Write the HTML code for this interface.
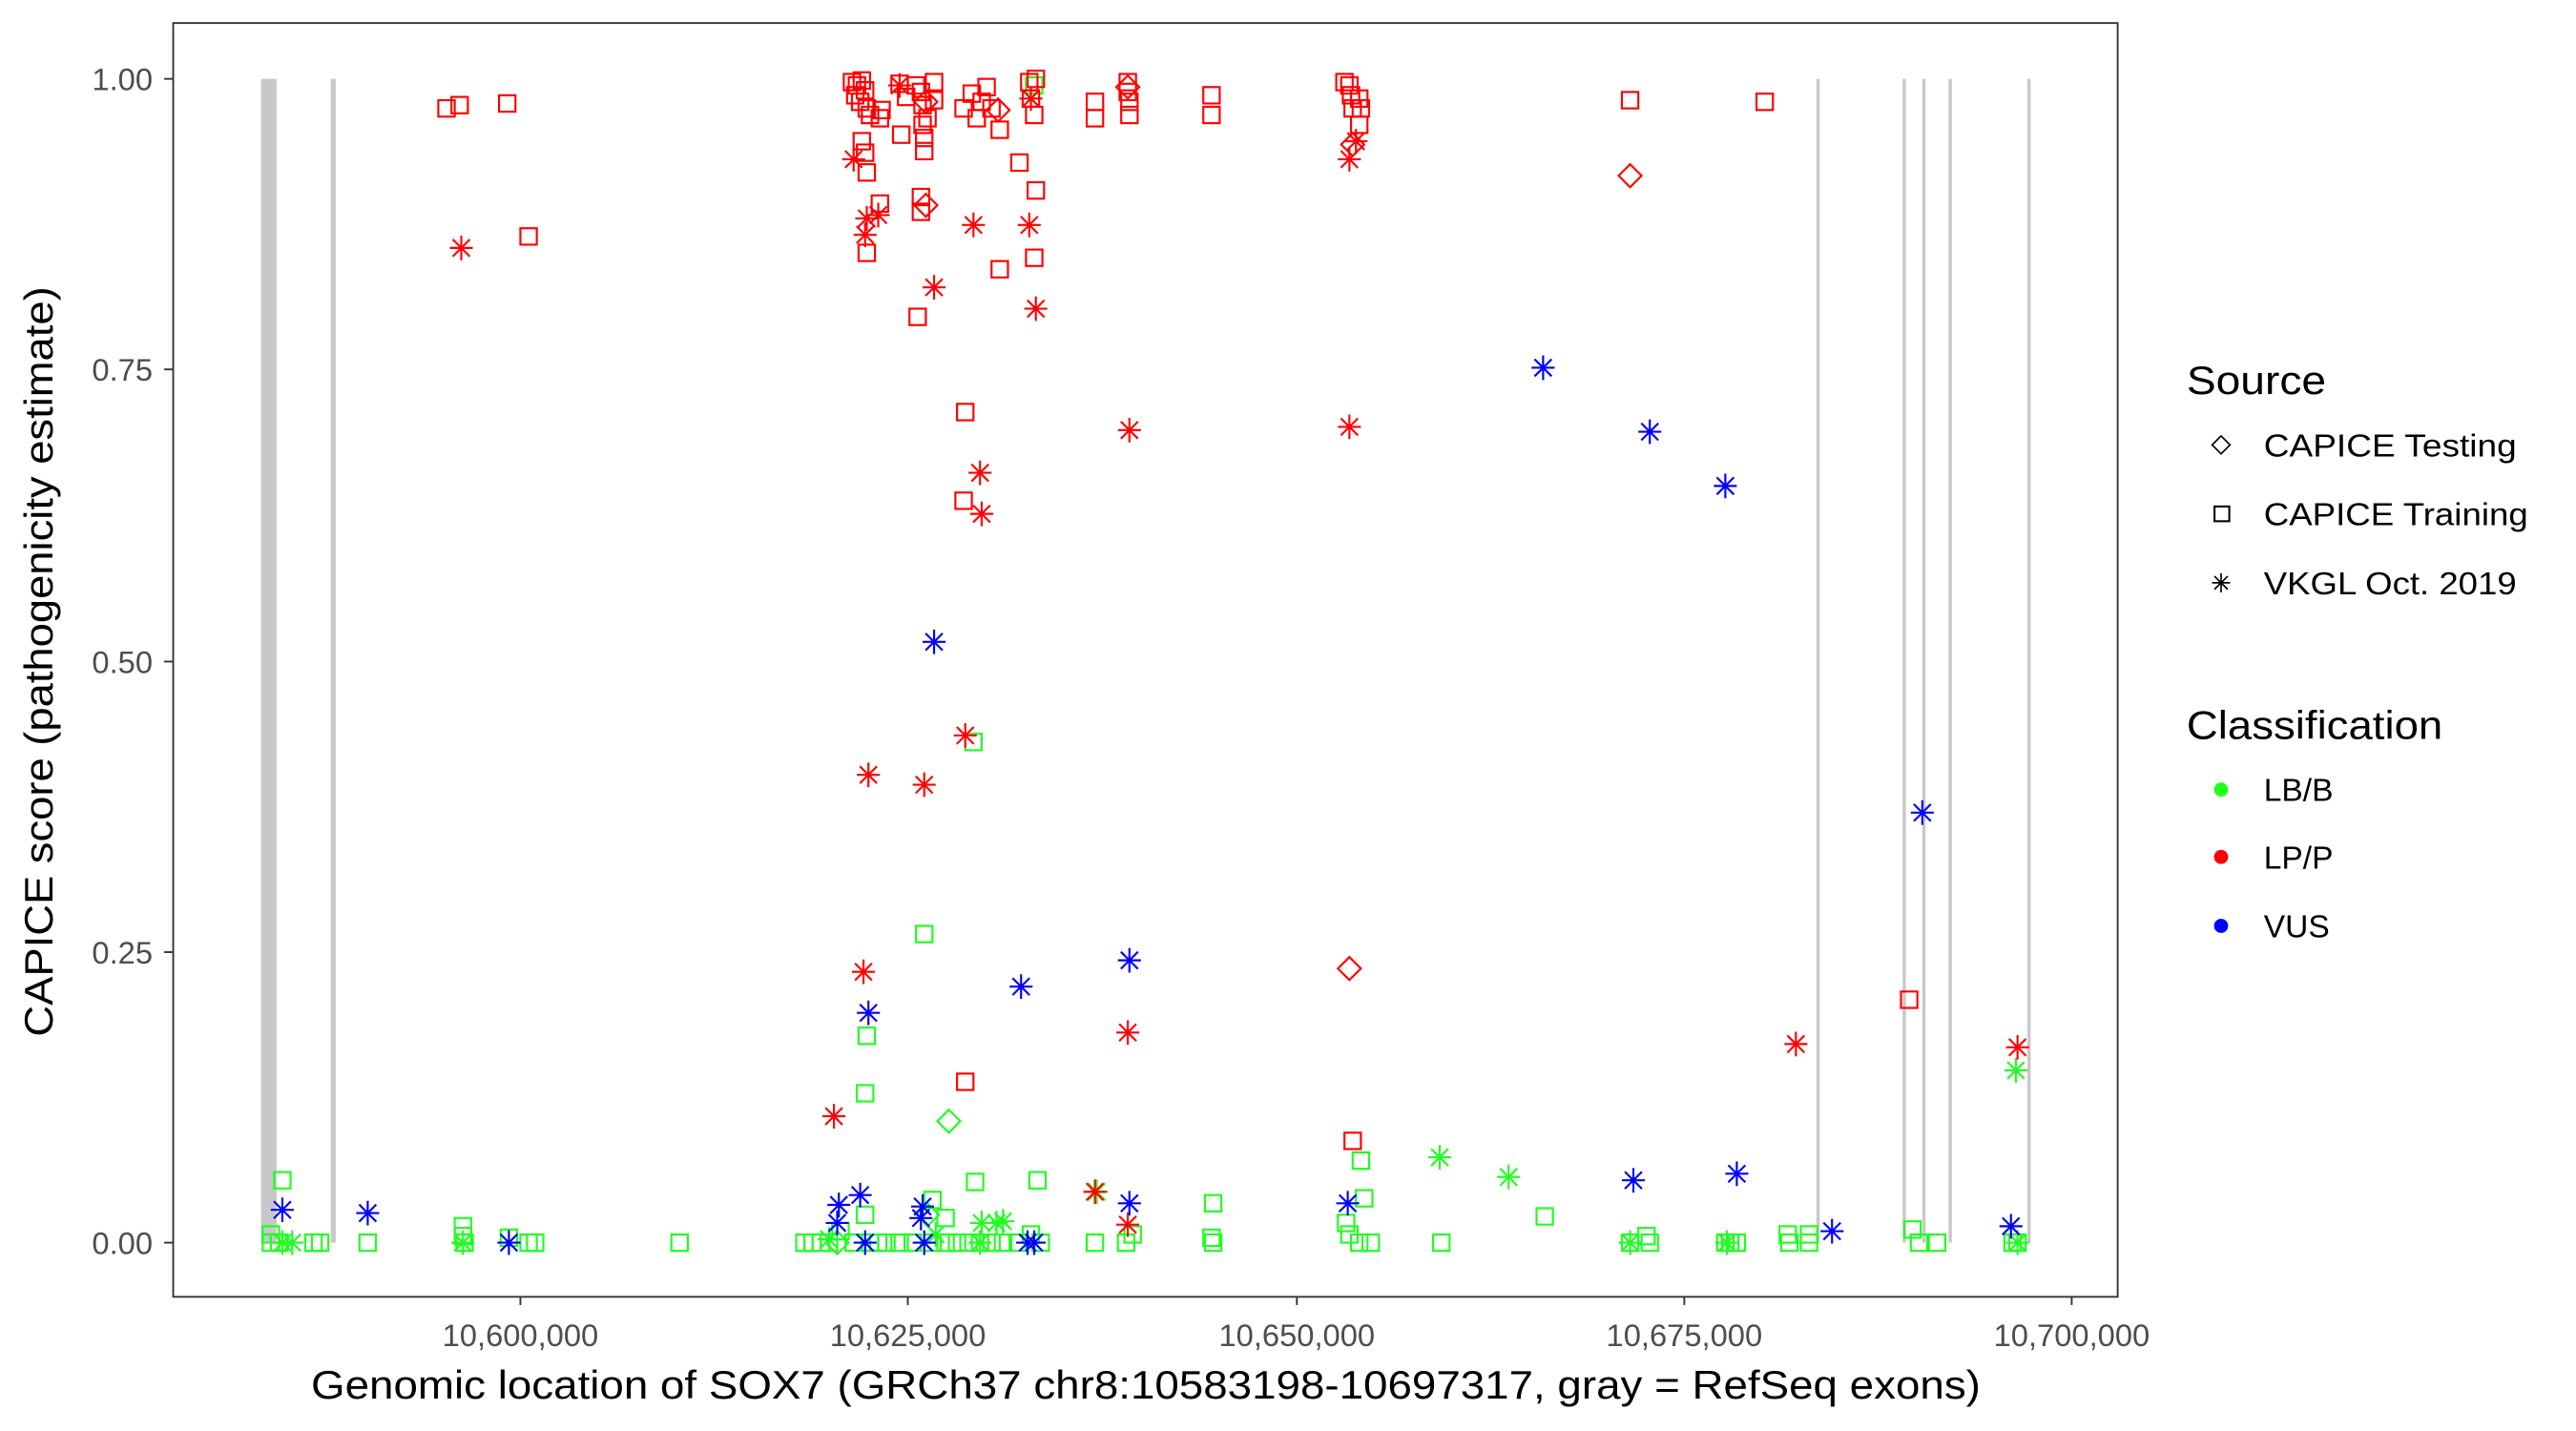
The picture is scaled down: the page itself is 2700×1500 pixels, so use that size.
<!DOCTYPE html>
<html><head><meta charset="utf-8"><style>html,body{margin:0;padding:0;background:#fff}svg{display:block}</style></head>
<body>
<svg width="2700" height="1500" viewBox="0 0 1569.2 871.7" xmlns="http://www.w3.org/2000/svg" font-family="Liberation Sans, Arial, sans-serif">
<defs>
<g id="s"><rect x="-5" y="-5" width="10" height="10" fill="none" stroke-width="1.25"/></g>
<g id="a" stroke-width="1.25"><line x1="-7" y1="0" x2="7" y2="0"/><line x1="0" y1="-7.5" x2="0" y2="7.5"/><line x1="-5.2" y1="-5.2" x2="5.2" y2="5.2"/><line x1="-5.2" y1="5.2" x2="5.2" y2="-5.2"/></g>
<g id="d"><polygon points="0,-7 7,0 0,7 -7,0" fill="none" stroke-width="1.25"/></g>
</defs>
<rect x="0" y="0" width="1569.2" height="871.7" fill="#fff"/>
<g fill="#c8c8c8">
<rect x="159" y="48" width="9.5" height="709"/>
<rect x="201.5" y="48" width="3" height="709"/>
<rect x="1106.5" y="48" width="2" height="709"/>
<rect x="1159" y="48" width="2" height="709"/>
<rect x="1171" y="48" width="2" height="709"/>
<rect x="1187" y="48" width="2" height="709"/>
<rect x="1235" y="48" width="2" height="709"/>
</g>
<g stroke="#1eff1e">
<use href="#s" x="172" y="719"/><use href="#s" x="563" y="569"/><use href="#s" x="528" y="631"/><use href="#s" x="527" y="666"/><use href="#s" x="593" y="452"/><use href="#s" x="632" y="719"/><use href="#s" x="594" y="720"/><use href="#s" x="739" y="733"/><use href="#s" x="829" y="707"/><use href="#s" x="831" y="730"/><use href="#s" x="941" y="741"/><use href="#s" x="568" y="731"/><use href="#s" x="576" y="742"/><use href="#s" x="527" y="740"/><use href="#s" x="165" y="752"/><use href="#s" x="165" y="757"/><use href="#s" x="170" y="757"/><use href="#s" x="191" y="757"/><use href="#s" x="195" y="757"/><use href="#s" x="224" y="757"/><use href="#s" x="282" y="747"/><use href="#s" x="282" y="753"/><use href="#s" x="283" y="757"/><use href="#s" x="310" y="754"/><use href="#s" x="322" y="757"/><use href="#s" x="326" y="757"/><use href="#s" x="414" y="757"/><use href="#s" x="490" y="757"/><use href="#s" x="495" y="757"/><use href="#s" x="500" y="757"/><use href="#s" x="505" y="757"/><use href="#s" x="512" y="750"/><use href="#s" x="520" y="757"/><use href="#s" x="530" y="757"/><use href="#s" x="535" y="757"/><use href="#s" x="540" y="757"/><use href="#s" x="548" y="757"/><use href="#s" x="556" y="757"/><use href="#s" x="568" y="757"/><use href="#s" x="576" y="757"/><use href="#s" x="583" y="757"/><use href="#s" x="590" y="757"/><use href="#s" x="597" y="757"/><use href="#s" x="604" y="757"/><use href="#s" x="611" y="757"/><use href="#s" x="620" y="757"/><use href="#s" x="628" y="752"/><use href="#s" x="634" y="757"/><use href="#s" x="667" y="757"/><use href="#s" x="686" y="757"/><use href="#s" x="690" y="752"/><use href="#s" x="738" y="754"/><use href="#s" x="739" y="757"/><use href="#s" x="820" y="745"/><use href="#s" x="822" y="752"/><use href="#s" x="828" y="757"/><use href="#s" x="835" y="757"/><use href="#s" x="878" y="757"/><use href="#s" x="993" y="757"/><use href="#s" x="1003" y="753"/><use href="#s" x="1005" y="757"/><use href="#s" x="1051" y="757"/><use href="#s" x="1054" y="757"/><use href="#s" x="1058" y="757"/><use href="#s" x="1089" y="752"/><use href="#s" x="1090" y="757"/><use href="#s" x="1102" y="752"/><use href="#s" x="1102" y="757"/><use href="#s" x="1165" y="749"/><use href="#s" x="1169" y="757"/><use href="#s" x="1180" y="757"/><use href="#s" x="1229" y="757"/><use href="#s" x="1226" y="757"/><use href="#s" x="630" y="52"/>
<use href="#a" x="172" y="757"/><use href="#a" x="178" y="757"/><use href="#a" x="282" y="757"/><use href="#a" x="505" y="755"/><use href="#a" x="598" y="745"/><use href="#a" x="607" y="745"/><use href="#a" x="611" y="744"/><use href="#a" x="597" y="757"/><use href="#a" x="877" y="705"/><use href="#a" x="919" y="717"/><use href="#a" x="668" y="726"/><use href="#a" x="1228" y="652"/><use href="#a" x="993" y="757"/><use href="#a" x="1052" y="757"/><use href="#a" x="1229" y="757"/><use href="#a" x="563" y="757"/><use href="#a" x="570" y="752"/>
<use href="#d" x="578" y="683"/><use href="#d" x="510" y="757"/><use href="#d" x="565" y="740"/>
</g>
<g stroke="#ff0000">
<use href="#s" x="272" y="66"/><use href="#s" x="280" y="64"/><use href="#s" x="309" y="63"/><use href="#s" x="322" y="144"/><use href="#s" x="519" y="50"/><use href="#s" x="522" y="52"/><use href="#s" x="525" y="49"/><use href="#s" x="527" y="55"/><use href="#s" x="521" y="58"/><use href="#s" x="524" y="62"/><use href="#s" x="528" y="66"/><use href="#s" x="530" y="70"/><use href="#s" x="525" y="86"/><use href="#s" x="527" y="93"/><use href="#s" x="528" y="105"/><use href="#s" x="528" y="154"/><use href="#s" x="536" y="72"/><use href="#s" x="536" y="124"/><use href="#s" x="537" y="67"/><use href="#s" x="548" y="51"/><use href="#s" x="549" y="82"/><use href="#s" x="552" y="59"/><use href="#s" x="558" y="52"/><use href="#s" x="561" y="56"/><use href="#s" x="562" y="64"/><use href="#s" x="562" y="76"/><use href="#s" x="563" y="84"/><use href="#s" x="563" y="92"/><use href="#s" x="561" y="120"/><use href="#s" x="561" y="129"/><use href="#s" x="569" y="50"/><use href="#s" x="569" y="61"/><use href="#s" x="565" y="72"/><use href="#s" x="559" y="193"/><use href="#s" x="588" y="251"/><use href="#s" x="587" y="305"/><use href="#s" x="588" y="659"/><use href="#s" x="587" y="66"/><use href="#s" x="592" y="57"/><use href="#s" x="595" y="72"/><use href="#s" x="598" y="62"/><use href="#s" x="601" y="53"/><use href="#s" x="604" y="66"/><use href="#s" x="609" y="79"/><use href="#s" x="609" y="164"/><use href="#s" x="621" y="99"/><use href="#s" x="627" y="50"/><use href="#s" x="628" y="60"/><use href="#s" x="630" y="70"/><use href="#s" x="631" y="48"/><use href="#s" x="631" y="116"/><use href="#s" x="630" y="157"/><use href="#s" x="667" y="62"/><use href="#s" x="667" y="72"/><use href="#s" x="687" y="50"/><use href="#s" x="687" y="56"/><use href="#s" x="688" y="62"/><use href="#s" x="688" y="70"/><use href="#s" x="738" y="58"/><use href="#s" x="738" y="70"/><use href="#s" x="819" y="50"/><use href="#s" x="822" y="52"/><use href="#s" x="823" y="58"/><use href="#s" x="824" y="66"/><use href="#s" x="828" y="60"/><use href="#s" x="828" y="76"/><use href="#s" x="829" y="66"/><use href="#s" x="993" y="61"/><use href="#s" x="1075" y="62"/><use href="#s" x="824" y="695"/><use href="#s" x="1163" y="609"/>
<use href="#a" x="281" y="151"/><use href="#a" x="520" y="97"/><use href="#a" x="527" y="143"/><use href="#a" x="528" y="133"/><use href="#a" x="535" y="131"/><use href="#a" x="569" y="175"/><use href="#a" x="593" y="137"/><use href="#a" x="627" y="137"/><use href="#a" x="631" y="188"/><use href="#a" x="548" y="52"/><use href="#a" x="688" y="262"/><use href="#a" x="822" y="260"/><use href="#a" x="597" y="288"/><use href="#a" x="598" y="313"/><use href="#a" x="529" y="472"/><use href="#a" x="563" y="478"/><use href="#a" x="588" y="448"/><use href="#a" x="526" y="592"/><use href="#a" x="687" y="629"/><use href="#a" x="508" y="680"/><use href="#a" x="1094" y="636"/><use href="#a" x="1229" y="638"/><use href="#a" x="822" y="97"/><use href="#a" x="826" y="86"/><use href="#a" x="667" y="726"/><use href="#a" x="687" y="746"/><use href="#a" x="628" y="60"/>
<use href="#d" x="564" y="125"/><use href="#d" x="564" y="62"/><use href="#d" x="608" y="67"/><use href="#d" x="687" y="53"/><use href="#d" x="993" y="107"/><use href="#d" x="822" y="590"/><use href="#d" x="824" y="88"/>
</g>
<g stroke="#0000ff">
<use href="#a" x="172" y="737"/><use href="#a" x="224" y="739"/><use href="#a" x="310" y="757"/><use href="#a" x="569" y="391"/><use href="#a" x="529" y="617"/><use href="#a" x="622" y="601"/><use href="#a" x="688" y="585"/><use href="#a" x="940" y="224"/><use href="#a" x="1005" y="263"/><use href="#a" x="1051" y="296"/><use href="#a" x="1171" y="495"/><use href="#a" x="511" y="734"/><use href="#a" x="524" y="728"/><use href="#a" x="510" y="745"/><use href="#a" x="527" y="757"/><use href="#a" x="562" y="735"/><use href="#a" x="561" y="742"/><use href="#a" x="563" y="757"/><use href="#a" x="626" y="757"/><use href="#a" x="630" y="757"/><use href="#a" x="688" y="733"/><use href="#a" x="821" y="733"/><use href="#a" x="995" y="719"/><use href="#a" x="1058" y="715"/><use href="#a" x="1116" y="750"/><use href="#a" x="1225" y="747"/>
</g>
<rect x="105.5" y="14" width="1184.5" height="776" fill="none" stroke="#333" stroke-width="1.1"/>
<g stroke="#333" stroke-width="1.1">
<line x1="100" y1="48" x2="105" y2="48"/><line x1="100" y1="225" x2="105" y2="225"/><line x1="100" y1="403" x2="105" y2="403"/><line x1="100" y1="580" x2="105" y2="580"/><line x1="100" y1="757" x2="105" y2="757"/>
<line x1="317" y1="790" x2="317" y2="795"/><line x1="553" y1="790" x2="553" y2="795"/><line x1="790" y1="790" x2="790" y2="795"/><line x1="1026" y1="790" x2="1026" y2="795"/><line x1="1262" y1="790" x2="1262" y2="795"/>
</g>
<g fill="#4d4d4d" font-size="19" text-anchor="end">
<text x="93" y="55">1.00</text><text x="93" y="232">0.75</text><text x="93" y="410">0.50</text><text x="93" y="587">0.25</text><text x="93" y="764">0.00</text>
</g>
<g fill="#4d4d4d" font-size="19" text-anchor="middle">
<text x="317" y="820">10,600,000</text><text x="553" y="820">10,625,000</text><text x="790" y="820">10,650,000</text><text x="1026" y="820">10,675,000</text><text x="1262" y="820">10,700,000</text>
</g>
<text x="698" y="852" font-size="24" text-anchor="middle" fill="#000" textLength="1017" lengthAdjust="spacingAndGlyphs">Genomic location of SOX7 (GRCh37 chr8:10583198-10697317, gray = RefSeq exons)</text>
<text transform="translate(32,403) rotate(-90)" font-size="24" text-anchor="middle" fill="#000" textLength="457" lengthAdjust="spacingAndGlyphs">CAPICE score (pathogenicity estimate)</text>
<text x="1332" y="240" font-size="24" fill="#000" textLength="85" lengthAdjust="spacingAndGlyphs">Source</text>
<g stroke="#000"><use href="#d" x="1353" y="271" transform="translate(1353,271) scale(0.78) translate(-1353,-271)"/><rect x="1349" y="308.5" width="9" height="9" fill="none" stroke-width="1.2"/><use href="#a" x="1353" y="355" transform="translate(1353,355) scale(0.78) translate(-1353,-355)"/></g>
<g font-size="19.5" fill="#000">
<text x="1379" y="278" textLength="154" lengthAdjust="spacingAndGlyphs">CAPICE Testing</text><text x="1379" y="320" textLength="161" lengthAdjust="spacingAndGlyphs">CAPICE Training</text><text x="1379" y="362" textLength="154" lengthAdjust="spacingAndGlyphs">VKGL Oct. 2019</text>
</g>
<text x="1332" y="450" font-size="24" fill="#000" textLength="156" lengthAdjust="spacingAndGlyphs">Classification</text>
<circle cx="1353" cy="481" r="4.3" fill="#1eff1e"/><circle cx="1353" cy="522" r="4.3" fill="#ff0000"/><circle cx="1353" cy="564" r="4.3" fill="#0000ff"/>
<g font-size="19.5" fill="#000">
<text x="1379" y="488">LB/B</text><text x="1379" y="529">LP/P</text><text x="1379" y="571">VUS</text>
</g>
</svg>
</body></html>
